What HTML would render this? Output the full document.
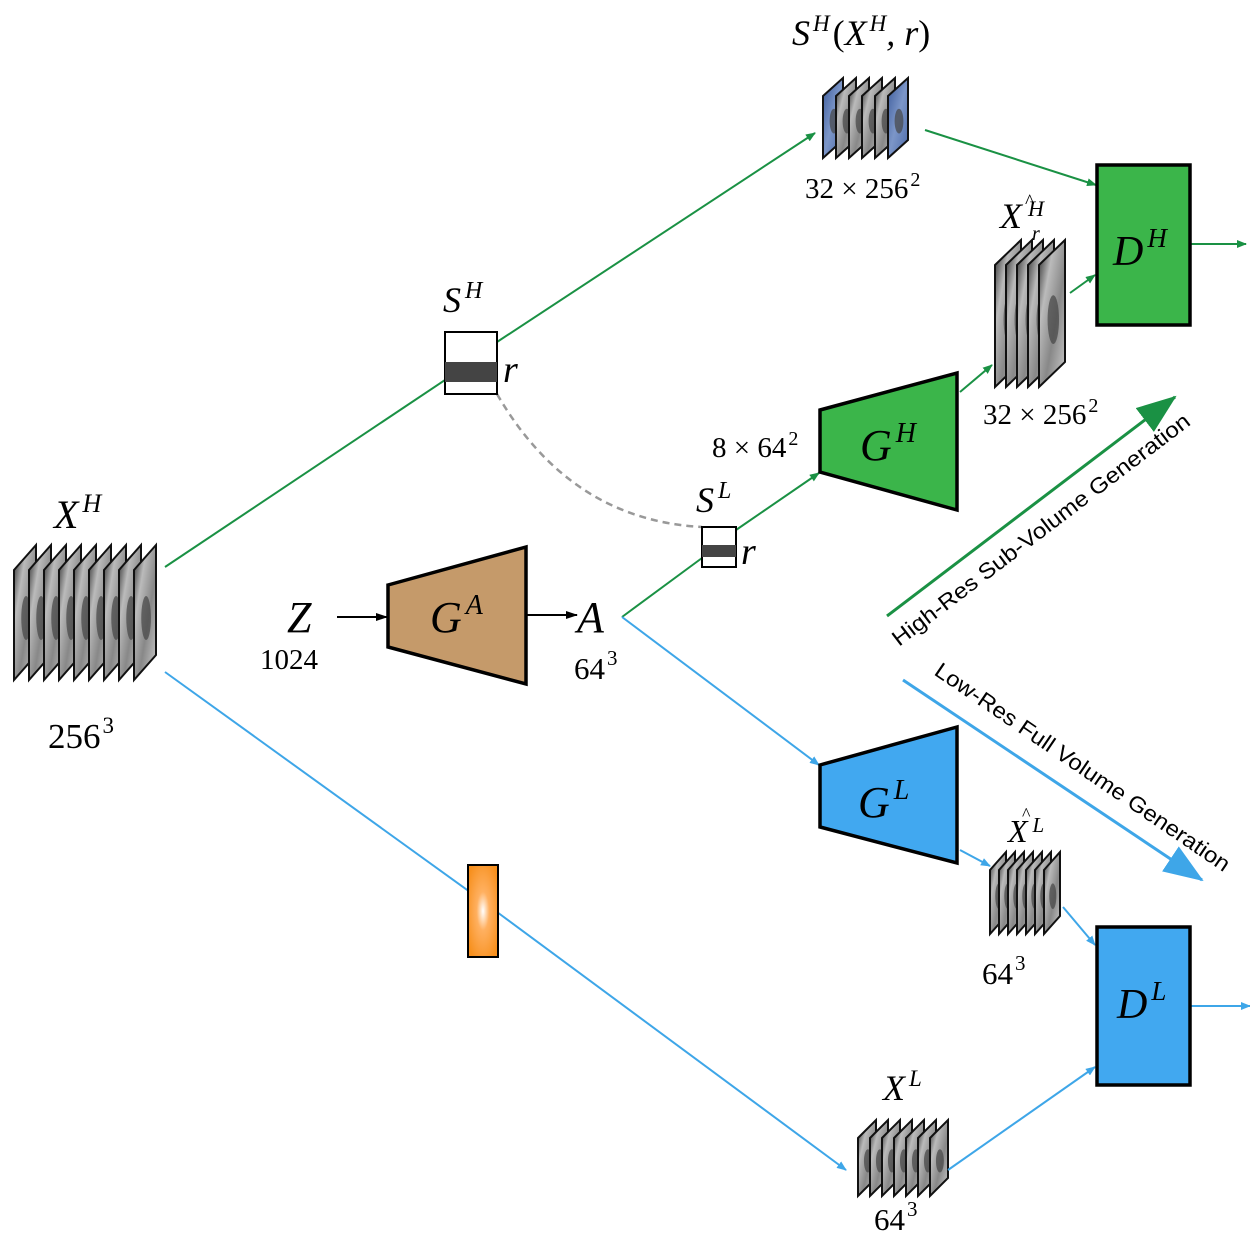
<!DOCTYPE html>
<html><head><meta charset="utf-8"><style>
html,body{margin:0;padding:0;background:#fff}
svg{display:block}
.m{font-family:"Liberation Serif",serif;font-style:italic;fill:#000}
.n{font-family:"Liberation Serif",serif;fill:#000}
.s{font-family:"Liberation Sans",sans-serif;fill:#000}
</style></head><body>
<svg id="fig" width="1250" height="1238" viewBox="0 0 1250 1238" xmlns="http://www.w3.org/2000/svg">
<defs>
<marker id="ag" markerWidth="10" markerHeight="8" refX="9" refY="4" orient="auto" markerUnits="userSpaceOnUse"><path d="M0,0L10,4L0,8z" fill="#1a9144"/></marker>
<marker id="ab" markerWidth="10" markerHeight="8" refX="9" refY="4" orient="auto" markerUnits="userSpaceOnUse"><path d="M0,0L10,4L0,8z" fill="#3ea6e8"/></marker>
<marker id="ak" markerWidth="12" markerHeight="8" refX="11" refY="4" orient="auto" markerUnits="userSpaceOnUse"><path d="M0,0L12,4L0,8z" fill="#000"/></marker>
<marker id="bg" markerWidth="40" markerHeight="30" refX="38" refY="15" orient="auto" markerUnits="userSpaceOnUse"><path d="M0,0L40,15L0,30z" fill="#1a9144"/></marker>
<marker id="bb" markerWidth="40" markerHeight="30" refX="38" refY="15" orient="auto" markerUnits="userSpaceOnUse"><path d="M0,0L40,15L0,30z" fill="#3ea6e8"/></marker>
<linearGradient id="sl" x1="0" y1="0" x2="1" y2="1"><stop offset="0" stop-color="#222"/><stop offset="0.3" stop-color="#bbb"/><stop offset="0.6" stop-color="#888"/><stop offset="1" stop-color="#ccc"/></linearGradient>
<linearGradient id="slb" x1="0" y1="0" x2="1" y2="1"><stop offset="0" stop-color="#3b5a9a"/><stop offset="0.5" stop-color="#7c96c8"/><stop offset="1" stop-color="#4c6aa8"/></linearGradient>
<radialGradient id="og" cx="0.5" cy="0.5" r="0.6"><stop offset="0" stop-color="#fff"/><stop offset="0.35" stop-color="#ffb060"/><stop offset="1" stop-color="#f7901e"/></radialGradient>
</defs>

<g id="stacks"></g>

<line x1="165" y1="567" x2="445" y2="380" stroke="#1a9144" stroke-width="2"/>
<line x1="497" y1="342" x2="815" y2="133" stroke="#1a9144" stroke-width="2" marker-end="url(#ag)"/>
<line x1="925" y1="130" x2="1096" y2="185" stroke="#1a9144" stroke-width="2" marker-end="url(#ag)"/>
<line x1="1070" y1="293" x2="1095" y2="275" stroke="#1a9144" stroke-width="2" marker-end="url(#ag)"/>
<line x1="960" y1="392" x2="992" y2="365" stroke="#1a9144" stroke-width="2" marker-end="url(#ag)"/>
<line x1="1190" y1="244" x2="1246" y2="244" stroke="#1a9144" stroke-width="2" marker-end="url(#ag)"/>
<line x1="622" y1="617" x2="702" y2="558" stroke="#1a9144" stroke-width="2"/>
<line x1="736" y1="530" x2="819" y2="473" stroke="#1a9144" stroke-width="2" marker-end="url(#ag)"/>

<line x1="622" y1="617" x2="819" y2="765" stroke="#3ea6e8" stroke-width="2" marker-end="url(#ab)"/>
<line x1="165" y1="672" x2="470" y2="892" stroke="#3ea6e8" stroke-width="2"/>
<line x1="497" y1="912" x2="846" y2="1170" stroke="#3ea6e8" stroke-width="2" marker-end="url(#ab)"/>
<line x1="948" y1="1170" x2="1095" y2="1067" stroke="#3ea6e8" stroke-width="2" marker-end="url(#ab)"/>
<line x1="960" y1="850" x2="990" y2="866" stroke="#3ea6e8" stroke-width="2" marker-end="url(#ab)"/>
<line x1="1063" y1="907" x2="1095" y2="945" stroke="#3ea6e8" stroke-width="2" marker-end="url(#ab)"/>
<line x1="1190" y1="1006" x2="1250" y2="1006" stroke="#3ea6e8" stroke-width="2" marker-end="url(#ab)"/>

<path d="M497,394 Q570,520 702,527" fill="none" stroke="#999" stroke-width="2.5" stroke-dasharray="7,5"/>

<rect x="445" y="332" width="52" height="62" fill="#fff" stroke="#000" stroke-width="2"/>
<rect x="445" y="362" width="52" height="20" fill="#444"/>
<text class="m" x="443" y="312" font-size="36">S<tspan font-size="24" dx="4" dy="-14">H</tspan></text>
<text class="m" x="503" y="382" font-size="38">r</text>

<rect x="702" y="527" width="34" height="40" fill="#fff" stroke="#000" stroke-width="2"/>
<rect x="702" y="545" width="34" height="12" fill="#444"/>
<text class="m" x="696" y="512" font-size="36">S<tspan font-size="24" dx="4" dy="-14">L</tspan></text>
<text class="m" x="741" y="564" font-size="38">r</text>

<polygon points="388,585 526,547 526,684 388,647" fill="#c59a6a" stroke="#000" stroke-width="3.5"/>
<text class="m" x="430" y="632" font-size="44">G<tspan font-size="28" dx="4" dy="-18">A</tspan></text>
<text class="m" x="287" y="632" font-size="44">Z</text>
<text class="n" x="260" y="669" font-size="29">1024</text>
<line x1="337" y1="617" x2="387" y2="617" stroke="#000" stroke-width="2" marker-end="url(#ak)"/>
<line x1="526" y1="615" x2="577" y2="615" stroke="#000" stroke-width="2" marker-end="url(#ak)"/>
<text class="m" x="577" y="632" font-size="44">A</text>
<text class="n" x="574" y="679" font-size="31">64<tspan font-size="21" dx="2" dy="-14">3</tspan></text>

<polygon points="820,410 957,373 957,510 820,472" fill="#3bb54a" stroke="#000" stroke-width="3.5"/>
<text class="m" x="860" y="460" font-size="44">G<tspan font-size="28" dx="4" dy="-18">H</tspan></text>
<text class="n" x="712" y="457" font-size="29">8 × 64<tspan font-size="20" dx="2" dy="-12">2</tspan></text>

<polygon points="820,765 957,727 957,863 820,827" fill="#41a8f0" stroke="#000" stroke-width="3.5"/>
<text class="m" x="858" y="817" font-size="44">G<tspan font-size="28" dx="4" dy="-18">L</tspan></text>

<rect x="1097" y="165" width="93" height="160" fill="#3bb54a" stroke="#000" stroke-width="3.5"/>
<text class="m" x="1113" y="265" font-size="42">D<tspan font-size="27" dx="4" dy="-18">H</tspan></text>
<rect x="1097" y="927" width="93" height="158" fill="#41a8f0" stroke="#000" stroke-width="3.5"/>
<text class="m" x="1117" y="1018" font-size="42">D<tspan font-size="27" dx="4" dy="-18">L</tspan></text>

<rect x="468" y="865" width="30" height="92" fill="url(#og)" stroke="#000" stroke-width="2"/>

<text class="m" x="54" y="528" font-size="40">X<tspan font-size="26" dx="4" dy="-16">H</tspan></text>
<text class="n" x="48" y="748" font-size="35">256<tspan font-size="23" dx="2" dy="-15">3</tspan></text>
<text class="m" x="792" y="45" font-size="36">S<tspan font-size="23" dx="3" dy="-14">H</tspan><tspan dx="3" dy="14" font-style="normal">(</tspan>X<tspan font-size="23" dx="3" dy="-14">H</tspan><tspan dy="14">, r</tspan><tspan font-style="normal">)</tspan></text>
<text class="n" x="805" y="198" font-size="29">32 × 256<tspan font-size="20" dx="2" dy="-12">2</tspan></text>
<text class="m" x="1000" y="228" font-size="36">X<tspan font-size="22" dx="6" dy="-12">H</tspan></text>
<text class="n" x="1025" y="208" font-size="20">^</text>
<text class="m" x="1032" y="240" font-size="20">r</text>
<text class="n" x="983" y="424" font-size="29">32 × 256<tspan font-size="20" dx="2" dy="-12">2</tspan></text>
<text class="m" x="1008" y="842" font-size="32">X<tspan font-size="21" dx="5" dy="-10">L</tspan></text>
<text class="n" x="1022" y="820" font-size="18">^</text>
<text class="n" x="982" y="984" font-size="31">64<tspan font-size="21" dx="2" dy="-14">3</tspan></text>
<text class="m" x="883" y="1100" font-size="36">X<tspan font-size="23" dx="4" dy="-14">L</tspan></text>
<text class="n" x="874" y="1230" font-size="31">64<tspan font-size="21" dx="2" dy="-14">3</tspan></text>

<line x1="887" y1="616" x2="1175" y2="397" stroke="#1a9144" stroke-width="3" marker-end="url(#bg)"/>
<text class="s" font-size="22" transform="translate(899,647) rotate(-37.3)" textLength="368" lengthAdjust="spacingAndGlyphs">High-Res Sub-Volume Generation</text>
<line x1="903" y1="680" x2="1202" y2="880" stroke="#3ea6e8" stroke-width="3" marker-end="url(#bb)"/>
<text class="s" font-size="22" transform="translate(933,674) rotate(34.3)" textLength="352" lengthAdjust="spacingAndGlyphs">Low-Res Full Volume Generation</text>
</svg>
<script>
var g=document.getElementById('stacks');
var NS='http://www.w3.org/2000/svg';
function stack(name,x0,y0,n,step,w,h,sk,fill){
  var grp=document.createElementNS(NS,'g');
  
  
  for(var i=0;i<n;i++){
    var x=x0+i*step;
    var p=document.createElementNS(NS,'polygon');
    var f=(typeof fill==='function')?fill(i):fill;
    p.setAttribute('points',x+','+(y0+sk)+' '+(x+w)+','+y0+' '+(x+w)+','+(y0+h)+' '+x+','+(y0+h+sk));
    p.setAttribute('fill',f);
    p.setAttribute('stroke','#111');
    p.setAttribute('stroke-width','2');
    
    
    grp.appendChild(p);
    var e=document.createElementNS(NS,'ellipse');
    e.setAttribute('cx',x+w*0.55);e.setAttribute('cy',y0+sk*0.5+h*0.55);
    e.setAttribute('rx',Math.max(2,w*0.22));e.setAttribute('ry',h*0.2);
    e.setAttribute('fill','#444');e.setAttribute('opacity','0.7');
    
    
    grp.appendChild(e);
  }
  g.appendChild(grp);
}
stack('xh-volume',14,545,9,15,22,110,25,'url(#sl)');
stack('sub-volume-sh',823,78,6,13,20,62,18,function(i){return (i<1||i>4)?'url(#slb)':'url(#sl)';});
stack('xrh-volume',995,240,5,11,26,122,25,'url(#sl)');
stack('xl-hat-volume',990,852,7,9,16,64,18,'url(#sl)');
stack('xl-volume',858,1120,7,12,18,58,18,'url(#sl)');
</script>
</body></html>
